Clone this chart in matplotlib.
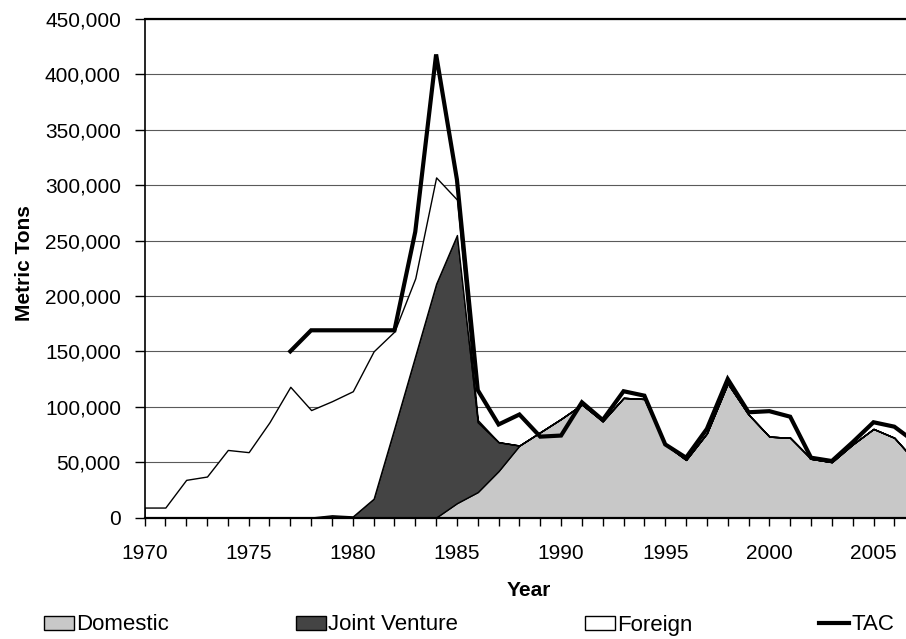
import numpy as np
import matplotlib
matplotlib.use('Agg')
import matplotlib.pyplot as plt
from matplotlib.patches import Patch
from matplotlib.lines import Line2D
from matplotlib.ticker import MultipleLocator, FuncFormatter

plt.rcParams['font.family'] = ['Liberation Sans', 'DejaVu Sans']

years = np.arange(1970, 2008)

# catch in metric tons (thousands * 1000)
domestic = np.array([0, 0, 0, 0, 0, 0, 0, 0, 0, 0,
                     0, 0, 0, 0, 0, 13, 23, 42, 65, 77,
                     89, 102, 87, 108, 107, 66, 52, 76, 121, 93,
                     73, 72, 53, 50, 66, 80, 72, 51]) * 1000
joint_venture = np.array([0, 0, 0, 0, 0, 0, 0, 0, 0, 2,
                          1, 17, 81, 146, 211, 242, 63, 26, 0, 0,
                          0, 0, 0, 0, 0, 0, 0, 0, 0, 0,
                          0, 0, 0, 0, 0, 0, 0, 0]) * 1000
foreign = np.array([9, 9, 34, 37, 61, 59, 86, 118, 97, 103,
                    113, 133, 87, 70, 96, 32, 2, 0, 0, 0,
                    0, 0, 0, 0, 0, 0, 0, 0, 0, 0,
                    0, 0, 0, 0, 0, 0, 0, 0]) * 1000
tac = np.array([np.nan] * 7 +
               [150, 169, 169, 169, 169, 169, 258, 418, 305, 115,
                84, 93, 73, 74, 104, 88, 114, 110, 66, 54,
                80, 125, 95, 96, 91, 54, 51, 68, 86, 82, 68]) * 1000

fig = plt.figure(figsize=(9.06, 6.39), dpi=100)
ax = fig.add_axes([0.1595, 0.1901, 0.8405, 0.7802])

ax.stackplot(years, domestic, joint_venture, foreign,
             colors=['#c8c8c8', '#444444', 'white'],
             edgecolor='black', linewidth=1)
ax.plot(years, tac, color='black', lw=3, solid_joinstyle='miter')

ax.set_xlim(1970, 2006.56)
ax.set_ylim(0, 450000)

ax.set_axisbelow(True)
ax.yaxis.set_major_locator(MultipleLocator(50000))
ax.yaxis.set_major_formatter(FuncFormatter(lambda v, p: '{:,.0f}'.format(v)))
ax.grid(axis='y', color='#5a5a5a', lw=0.8)

ax.xaxis.set_major_locator(MultipleLocator(1))
ax.xaxis.set_major_formatter(FuncFormatter(
    lambda v, p: str(int(round(v))) if int(round(v)) % 5 == 0 else ''))

ax.tick_params(axis='y', direction='out', length=7, width=1, pad=10, labelsize=15)
ax.tick_params(axis='x', direction='out', length=6, width=1, pad=13, labelsize=15)

ax.spines['right'].set_visible(False)
ax.spines['top'].set_linewidth(1.6)
ax.spines['left'].set_linewidth(1.2)
ax.spines['bottom'].set_linewidth(1.6)

fig.text(25 / 906, 1 - 263 / 639, 'Metric Tons', rotation=90, fontsize=15,
         fontweight='bold', ha='center', va='center')
fig.text(529 / 906, 1 - 591 / 639, 'Year', fontsize=15,
         fontweight='bold', ha='center', va='center')

handles = [Patch(facecolor='#c8c8c8', edgecolor='black', linewidth=1),
           Patch(facecolor='#444444', edgecolor='black', linewidth=1),
           Patch(facecolor='white', edgecolor='black', linewidth=1),
           Line2D([0], [0], color='black', lw=3)]
labels = ['Domestic', 'Joint Venture', 'Foreign', 'TAC']
fig.legend(handles, labels, loc='center', ncol=4, mode='expand',
           bbox_to_anchor=(44 / 906, 1 - 625 / 639 - 0.02, 850 / 906, 0.04),
           frameon=False, fontsize=16, borderpad=0, borderaxespad=0,
           handlelength=1.35, handleheight=0.6, handletextpad=0.1)

fig.savefig('out.png', dpi=100)
